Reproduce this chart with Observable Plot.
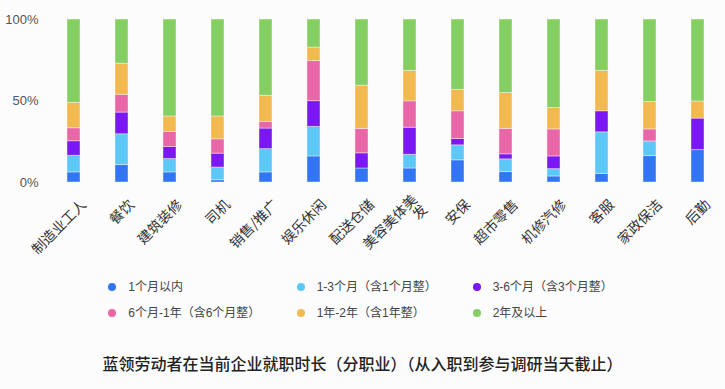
<!DOCTYPE html>
<html><head><meta charset="utf-8">
<script src="https://cdn.jsdelivr.net/npm/d3@7"></script>
<script src="https://cdn.jsdelivr.net/npm/@observablehq/plot@0.6"></script>
<style>
html,body{margin:0;padding:0;background:#fcfcfc;}
body{font-family:"Liberation Sans","Noto Sans CJK SC",sans-serif;}
#wrap{position:relative;width:725px;height:389px;overflow:hidden;}
#chart{position:absolute;left:0;top:0;}
.item{position:absolute;display:flex;align-items:center;font-size:12px;color:#444;white-space:nowrap;line-height:1;}
.dot{width:8px;height:8px;border-radius:50%;margin-right:12px;flex:none;}
#title{position:absolute;left:0;width:725px;top:353px;text-align:center;font-size:16px;font-weight:500;color:#222;line-height:24px;}
</style></head>
<body><div id="wrap"><div id="chart"></div><div id="legend"></div><div id="title"></div></div>
<script>
const categories = ["制造业工人","餐饮","建筑装修","司机","销售/推广","娱乐休闲","配送仓储","美容美体美发","安保","超市零售","机修汽修","客服","家政保洁","后勤"];
const seriesNames = ["1个月以内","1-3个月（含1个月整）","3-6个月（含3个月整）","6个月-1年（含6个月整）","1年-2年（含1年整）","2年及以上"];
const colors = ["#3176f0","#5cc8f8","#7b17f2","#e966a8","#f2b94f","#84ce62"];
const s1 = [6.2, 10.7, 6.2, 1.4, 6.2, 16.0, 8.6, 8.6, 13.6, 6.4, 3.7, 5.3, 16.2, 19.9];
const s2 = [10.2, 18.9, 8.2, 7.8, 14.3, 18.1, 0, 8.4, 9.2, 7.8, 4.5, 25.5, 9.0, 0];
const s3 = [8.9, 13.3, 7.4, 8.5, 12.6, 15.8, 9.3, 16.6, 3.9, 3.1, 7.8, 12.9, 0, 19.3];
const s4 = [8.0, 10.9, 9.2, 8.8, 4.1, 24.6, 15.0, 16.2, 17.0, 15.6, 16.6, 0, 7.4, 0];
const s5 = [15.6, 19.1, 9.5, 14.0, 16.0, 8.3, 26.5, 18.7, 13.1, 22.0, 13.1, 24.8, 16.8, 10.5];
const s6 = [51.1, 27.1, 59.5, 59.5, 46.8, 17.2, 40.6, 31.5, 43.2, 45.1, 54.3, 31.5, 50.6, 50.3];
const yTicks = [0, 50, 100];
const labelText = {"美容美体美发":"美容美体美\n发"};

const allSeries = [s1,s2,s3,s4,s5,s6];
const data = [];
allSeries.forEach((arr, si) => arr.forEach((v, ci) => data.push({cat: categories[ci], series: seriesNames[si], value: v})));

const chart = Plot.plot({
  width: 725, height: 262,
  marginLeft: 53, marginRight: 7, marginTop: 19, marginBottom: 80,
  style: {background: "transparent", fontFamily: '"Liberation Sans","Noto Sans CJK SC",sans-serif'},
  x: {domain: categories, paddingInner: 0.73, paddingOuter: 0.2, label: null},
  y: {domain: [0, 100], label: null},
  color: {domain: seriesNames, range: colors},
  marks: [
    Plot.barY(data, {x: "cat", y: "value", fill: "series", stroke: "white", strokeOpacity: 0.4, strokeWidth: 1, inset: 0}),
    Plot.axisY({ticks: yTicks, tickFormat: d => d + "%", tickSize: 0, tickPadding: 15, fontSize: 13, color: "#555", label: null}),
    Plot.axisX({tickSize: 0, tickRotate: -45, tickPadding: 8, dx: 10, dy: 12, fontSize: 14, color: "#333", fontFamily: '"Noto Sans CJK SC",sans-serif', tickFormat: d => labelText[d] ?? d, label: null})
  ]
});
document.getElementById("chart").appendChild(chart);

const legend = document.getElementById("legend");
const colX = [108.3, 296.7, 472.7];
const rowY = [286.7, 313.3];
seriesNames.forEach((n, i) => {
  const it = document.createElement("div");
  it.className = "item";
  it.style.left = colX[i % 3] + "px";
  it.style.top = (rowY[Math.floor(i / 3)] - 8) + "px";
  it.style.height = "16px";
  const d = document.createElement("span"); d.className = "dot"; d.style.background = colors[i];
  const t = document.createElement("span"); t.textContent = n;
  it.appendChild(d); it.appendChild(t);
  legend.appendChild(it);
});
document.getElementById("title").textContent = "蓝领劳动者在当前企业就职时长（分职业）（从入职到参与调研当天截止）";
</script>
</body></html>
